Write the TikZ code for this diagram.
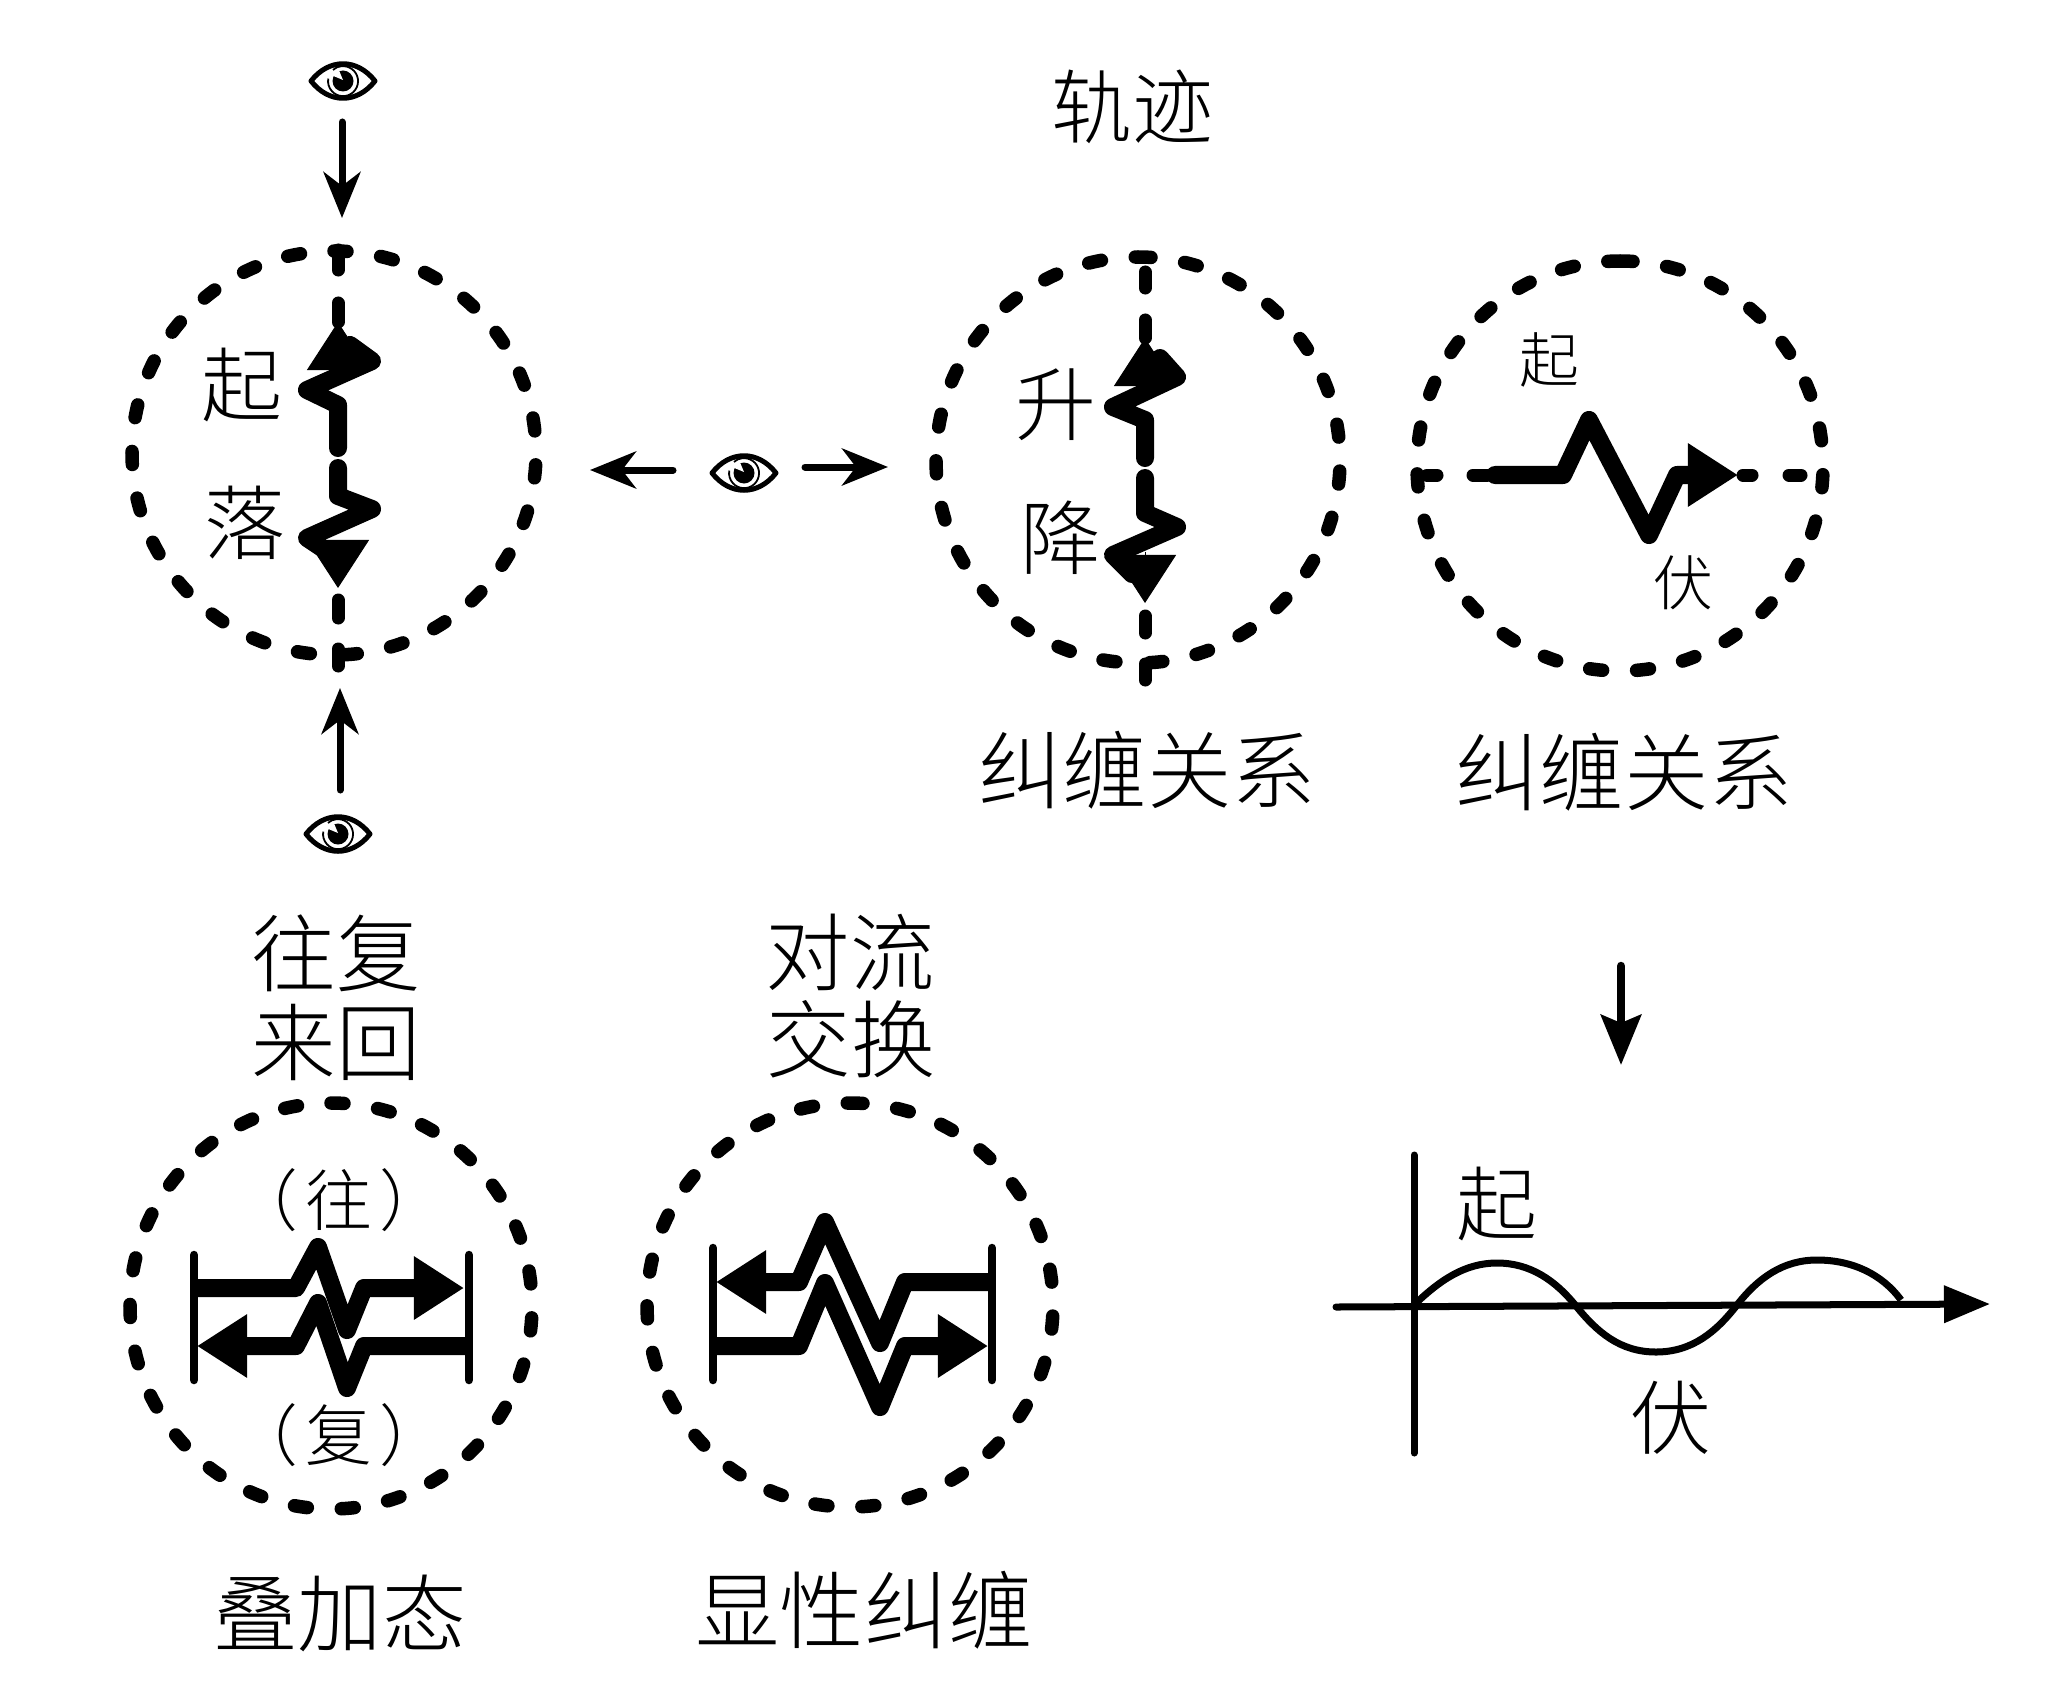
\documentclass[tikz,border=0pt]{standalone}
\usepackage{fontspec}
\usepackage{tikz}
\usetikzlibrary{arrows.meta}
\newfontfamily\cjk[UprightFont={* Light}]{Noto Sans CJK SC}
\tikzset{
    ring/.style={line width=0.135cm,line cap=round,dash pattern=on 0.13cm off 0.34cm},
    tick/.style={line width=0.13cm,line cap=round},
    zig/.style={line width=0.18cm,line join=round,line cap=round},
    zighead/.style={line width=0.01cm,-{Triangle[length=0.48cm,width=0.62cm]}},
    flat/.style={zig,line cap=butt,-{Triangle[length=0.5cm,width=0.6cm]}},
    barb/.style={line width=0.085cm,line cap=round},
    axis/.style={line width=0.07cm,line cap=round},
    look/.style={line width=0.07cm,line cap=round,-{Stealth[length=0.46cm,width=0.37cm,inset=0.14cm]}},
    bold/.style={line width=0.085cm,line cap=round,-{Stealth[length=0.5cm,width=0.4cm,inset=0.08cm]}},
    big/.style={font=\cjk\fontsize{24}{24}\selectfont,inner sep=0pt},
    mid/.style={font=\cjk\fontsize{23}{23}\selectfont,inner sep=0pt},
    paren/.style={font=\cjk\fontsize{19}{19}\selectfont,inner sep=0pt},
    small/.style={font=\cjk\fontsize{17}{17}\selectfont,inner sep=0pt},
    eye/.pic={
        \draw[line width=0.05cm,line join=round] (-32,0) .. controls (-14,-23) and (14,-23) .. (32,0) .. controls (14,23) and (-14,23) .. (-32,0) -- cycle;
        \draw[line width=0.018cm] (-10,-11) arc[start angle=-132,end angle=190,radius=15];
        \fill (0,0) circle (10.5);
        \fill[white] (0,-1) -- (-12,-6) -- (-5,-13) -- cycle;
    }
}
\begin{document}
\begin{tikzpicture}[x=0.01cm,y=-0.01cm]
    \useasboundingbox (0,0) rectangle (2061,1685);

    % rings
    \draw[ring] (334,251) arc[start angle=-90,end angle=270,x radius=202,y radius=202];
    \draw[ring] (1138,257) arc[start angle=-90,end angle=270,x radius=202,y radius=203];
    \draw[ring] (1620,261) arc[start angle=-90,end angle=270,x radius=203,y radius=205];
    \draw[ring] (331,1103) arc[start angle=-90,end angle=270,x radius=201,y radius=203];
    \draw[ring] (850,1103) arc[start angle=-90,end angle=270,x radius=203,y radius=202];

    % eyes and their arrows
    \pic at (343,81) {eye};
    \pic at (744,473) {eye};
    \pic at (338,834) {eye};
    \coordinate (topa) at (342,122);
    \coordinate (topb) at (342,218);
    \coordinate (lowa) at (340,790);
    \coordinate (lowb) at (340,688);
    \coordinate (lefta) at (673,470);
    \coordinate (leftb) at (590,470);
    \coordinate (righta) at (805,467);
    \coordinate (rightb) at (888,467);
    \draw[look] (topa) -- (topb);
    \draw[look] (lowa) -- (lowb);
    \draw[look] (lefta) -- (leftb);
    \draw[look] (righta) -- (rightb);

    % first ring
    \draw[tick] (338,250) -- (338,270);
    \draw[tick] (338,303) -- (338,322);
    \draw[tick] (338,600) -- (338,618);
    \draw[tick] (338,649) -- (338,666);
    \draw[zig] (338,448) -- (338,405) -- (307,390) -- (372,361) -- (350,345);
    \draw[zighead] (338,368) -- (338,322);
    \draw[zig] (338,468) -- (338,496) -- (372,509) -- (307,538) -- (328,552);
    \draw[zighead] (338,540) -- (338,588);
    \node[mid] (qi) at (242,385) {\cjk 起};
    \node[mid] (luo) at (245,523) {\cjk 落};

    % second ring
    \draw[tick] (1145,272) -- (1145,288);
    \draw[tick] (1145,320) -- (1145,338);
    \draw[tick] (1145,616) -- (1145,633);
    \draw[tick] (1145,664) -- (1145,680);
    \draw[zig] (1145,458) -- (1145,420) -- (1113,407) -- (1177,377) -- (1160,358);
    \draw[zighead] (1145,384) -- (1145,338);
    \draw[zig] (1145,478) -- (1145,513) -- (1177,527) -- (1113,555) -- (1132,574);
    \draw[zighead] (1145,552) -- (1145,603);
    \node[mid] (sheng) at (1056,405) {\cjk 升};
    \node[mid] (jiang) at (1061,538) {\cjk 降};

    % third ring
    \draw[tick] (1427,475) -- (1437,475);
    \draw[tick] (1473,475) -- (1487,475);
    \draw[tick] (1743,475) -- (1752,475);
    \draw[tick] (1789,475) -- (1801,475);
    \draw[zig,-{Triangle[length=0.5cm,width=0.6cm]}] (1495,475) -- (1563,475) -- (1589,420) -- (1649,535) -- (1677,475) -- (1738,475);
    \node[small] (qia) at (1549,360) {\cjk 起};
    \node[small] (fua) at (1683,583) {\cjk 伏};

    % fourth ring
    \draw[barb] (194,1255) -- (194,1380);
    \draw[barb] (469,1255) -- (469,1380);
    \draw[flat] (194,1288) -- (296,1288) -- (318,1247) -- (347,1330) -- (364,1288) -- (464,1288);
    \draw[flat] (469,1346) -- (364,1346) -- (347,1388) -- (318,1303) -- (296,1346) -- (197,1346);
    \node[paren] (wang) at (339,1200) {\cjk （\hspace{2pt}往\hspace{2pt}）};
    \node[paren] (fu) at (339,1435) {\cjk （\hspace{2pt}复\hspace{2pt}）};

    % fifth ring
    \draw[barb] (713,1248) -- (713,1380);
    \draw[barb] (992,1248) -- (992,1380);
    \draw[flat] (992,1282) -- (905,1282) -- (880,1343) -- (825,1222) -- (799,1282) -- (716,1282);
    \draw[flat] (713,1346) -- (799,1346) -- (825,1283) -- (880,1407) -- (905,1346) -- (988,1346);

    % plot
    \coordinate (arra) at (1621,966);
    \coordinate (arrb) at (1621,1065);
    \draw[bold] (arra) -- (arrb);
    \draw[axis] (1414,1155) -- (1414,1453);
    \draw[axis,-{Triangle[length=0.46cm,width=0.36cm]}] (1336,1307) -- (1990,1304);
    \draw[axis,line cap=butt] (1414,1305) .. controls (1440,1280) and (1465,1263) .. (1497,1263) .. controls (1530,1263) and (1555,1280) .. (1576,1306) .. controls (1597,1332) and (1620,1352) .. (1656,1352) .. controls (1692,1352) and (1716,1332) .. (1737,1305) .. controls (1758,1278) and (1783,1260) .. (1817,1260) .. controls (1852,1260) and (1882,1274) .. (1901,1300);
    \node[mid] (qib) at (1497,1204) {\cjk 起};
    \node[mid] (fub) at (1671,1418) {\cjk 伏};

    % labels
    \node[mid] (guiji) at (1132,107) {\cjk 轨迹};
    \node[big] (jiua) at (1147,770) {\cjk 纠缠关系};
    \node[big] (jiub) at (1624,772) {\cjk 纠缠关系};
    \node[big] (wangfu) at (336,953) {\cjk 往复};
    \node[big] (laihui) at (336,1042) {\cjk 来回};
    \node[big] (duiliu) at (850,952) {\cjk 对流};
    \node[big] (jiaohuan) at (851,1039) {\cjk 交换};
    \node[big] (dieja) at (340,1613) {\cjk 叠加态};
    \node[big] (xianxing) at (864,1610) {\cjk 显性纠缠};
\end{tikzpicture}
\end{document}
